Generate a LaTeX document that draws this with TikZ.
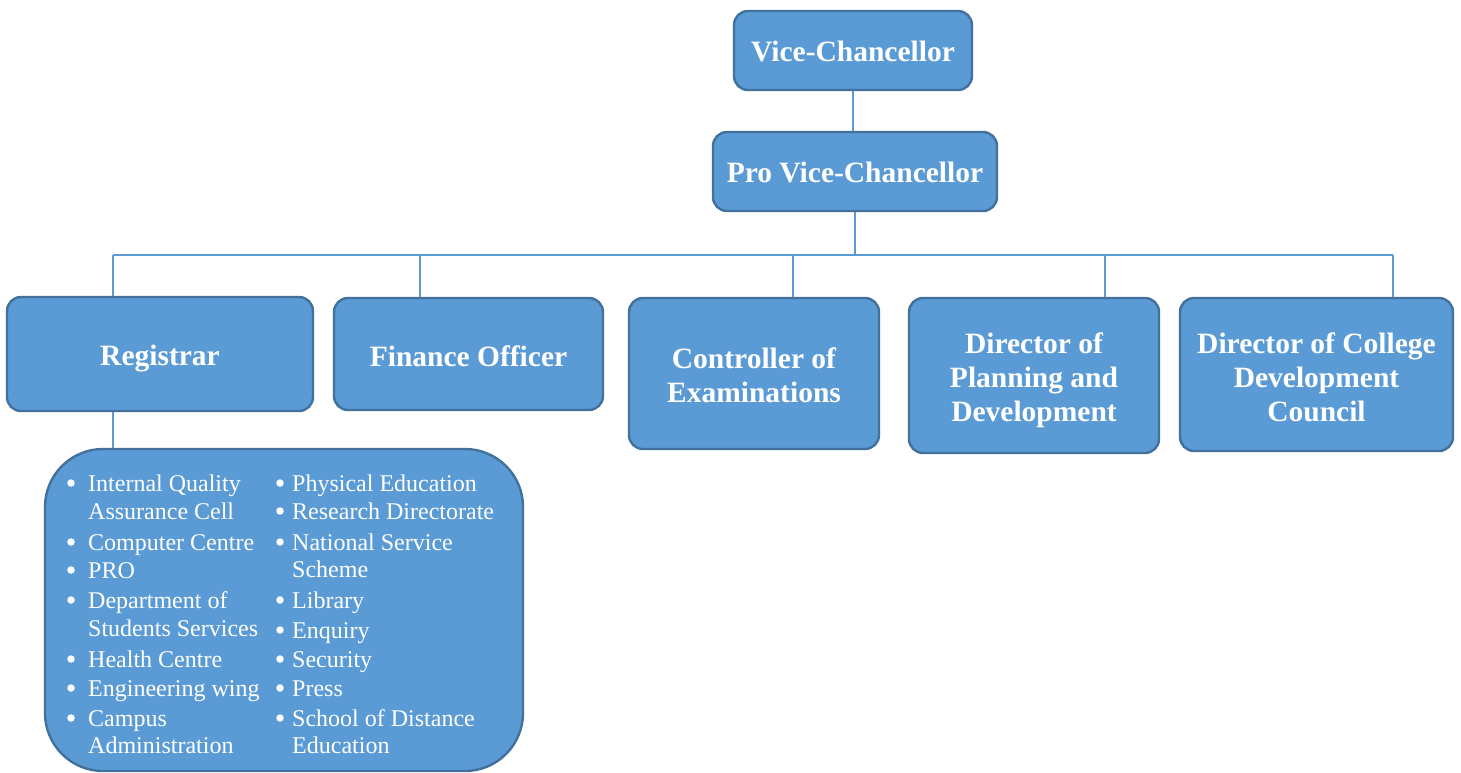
\documentclass[tikz,border=0pt]{standalone}
\usepackage{fontspec}
\setmainfont{Liberation Serif}
\definecolor{boxfill}{HTML}{5B9BD5}
\definecolor{boxline}{HTML}{41719C}
\definecolor{conn}{HTML}{5B9BD5}
\begin{document}
\begin{tikzpicture}[x=1pt,y=-1pt,
  unit/.style={draw=boxline, line width=2.4pt, fill=boxfill, rounded corners=14pt, inner sep=0pt},
  utext/.style={text=white, align=center, inner sep=0pt,
    font=\bfseries\fontsize{29.5}{34}\selectfont},
  listbox/.style={draw=boxline, line width=2.4pt, fill=boxfill, rounded corners=58pt, inner sep=0pt},
  item/.style={text=white, anchor=base west, inner sep=0pt, font=\fontsize{24}{28}\selectfont},
  dot/.style={circle, fill=white, inner sep=0pt, minimum size=7.5pt},
  link/.style={draw=conn, line width=1.2pt}]
\useasboundingbox (0,0) rectangle (1461,772);

\node[unit, minimum width=238pt, minimum height=79pt] (vc) at (853,50.5) {};
\node[unit, minimum width=284pt, minimum height=79pt] (pvc) at (855,171.5) {};
\node[unit, minimum width=306pt, minimum height=114pt] (reg) at (160,354) {};
\node[unit, minimum width=269pt, minimum height=112pt] (fin) at (468.5,354) {};
\node[unit, minimum width=250pt, minimum height=151pt] (coe) at (754,373.5) {};
\node[unit, minimum width=250pt, minimum height=155pt] (dpd) at (1034,375.5) {};
\node[unit, minimum width=273pt, minimum height=153pt] (dcdc) at (1316.5,374.5) {};

\node[utext] (vct) at ([yshift=-1pt]vc.center) {Vice-Chancellor};
\node[utext] (pvct) at ([yshift=-1pt]pvc.center) {Pro Vice-Chancellor};
\node[utext] (regt) at ([yshift=-5pt]reg.center) {Registrar};
\node[utext] (fint) at ([yshift=-2pt]fin.center) {Finance Officer};
\node[utext] (coet) at ([yshift=-2pt]coe.center) {Controller of\\Examinations};
\node[utext] (dpdt) at ([yshift=-5pt]dpd.center) {Director of\\Planning and\\Development};
\node[utext] (dcdct) at ([yshift=-3pt]dcdc.center) {Director of College\\Development\\Council};

\node[listbox, minimum width=478pt, minimum height=322pt] (list) at (284,610) {};

\coordinate (busL) at (113,255);
\coordinate (busR) at (1393,255);
\draw[link] (vc.south) -- (vc.south |- pvc.north);
\draw[link] (pvc.south) -- (pvc.south |- busL);
\draw[link] (busL) -- (busR);
\draw[link] (busL) -- (busL |- reg.north);
\draw[link] (420,255) -- (420,255 |- fin.north);
\draw[link] (793,255) -- (793,255 |- coe.north);
\draw[link] (1105,255) -- (1105,255 |- dpd.north);
\draw[link] (busR) -- (busR |- dcdc.north);
\draw[link] (reg.south -| busL) -- (busL |- list.north);

% left column
\foreach \y/\t/\b in {491/Internal Quality/1, 519/Assurance Cell/0, 550/Computer Centre/1, 578/PRO/1,
  608/Department of/1, 636/Students Services/0, 667/Health Centre/1, 696/Engineering wing/1,
  726/Campus/1, 753/Administration/0}{
  \node[item] at (88,\y) {\t};
  \ifnum\b=1 \node[dot] at (71,\y-8) {};\fi
}
% right column
\foreach \y/\t/\b in {491/Physical Education/1, 519/Research Directorate/1, 550/National Service/1, 577/Scheme/0,
  608/Library/1, 638/Enquiry/1, 667/Security/1, 696/Press/1,
  726/School of Distance/1, 753/Education/0}{
  \node[item] at (292,\y) {\t};
  \ifnum\b=1 \node[dot] at (280,\y-8) {};\fi
}
\end{tikzpicture}
\end{document}
